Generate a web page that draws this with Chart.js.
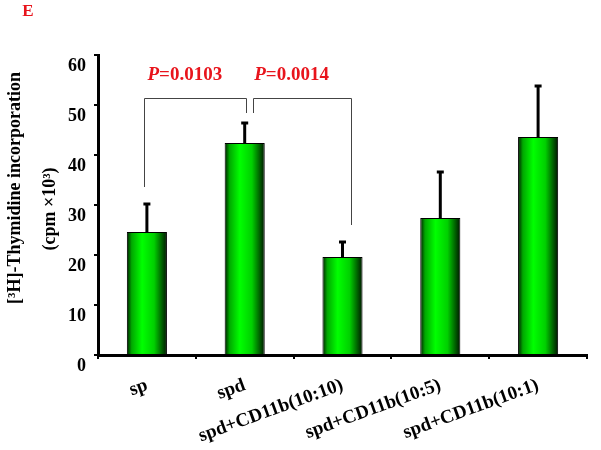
<!DOCTYPE html>
<html>
<head>
<meta charset="utf-8">
<script src="https://cdn.jsdelivr.net/npm/chart.js@4.4.0/dist/chart.umd.min.js"></script>
<style>
  html, body { margin: 0; padding: 0; background: #fff; }
</style>
</head>
<body>
<canvas id="chart" width="601" height="450"></canvas>
<script>
const categories = ['sp', 'spd', 'spd+CD11b(10:10)', 'spd+CD11b(10:5)', 'spd+CD11b(10:1)'];
const means = [24.6, 42.4, 19.6, 27.4, 43.6];
const errors = [5.6, 4.0, 3.0, 9.2, 10.2];
const yMin = 0;
const yMax = 60;
const yStep = 10;

// significance brackets (data units)
const bracketFrom = [0, 1];
const bracketTo = [1, 2];
const bracketTop = [51.4, 51.4];
const bracketLegFrom = [33.6, 48.4];
const bracketLegTo = [48.4, 26.0];
const pValues = ['0.0103', '0.0014'];
const pLabelY = 56;

const panelLetter = 'E';
const yTitle1 = '[\u00b3H]-Thymidine incorporation';
const yTitle2 = '(cpm \u00d710\u00b3)';

const serif = "'Liberation Serif', 'Times New Roman', serif";
const barFrac = 0.41;

function barGradient(context) {
  const chart = context.chart;
  const { ctx, chartArea, scales } = chart;
  if (!chartArea || !scales.x) return '#00e000';
  const x = scales.x.getPixelForValue(context.dataIndex);
  const w = (chartArea.right - chartArea.left) / categories.length * barFrac;
  const g = ctx.createLinearGradient(x - w / 2, 0, x + w / 2, 0);
  g.addColorStop(0, '#001a00');
  g.addColorStop(0.12, '#00a800');
  g.addColorStop(0.38, '#00ff00');
  g.addColorStop(0.68, '#00d000');
  g.addColorStop(0.9, '#005000');
  g.addColorStop(1, '#001500');
  return g;
}

// upper error bars
const errorBars = {
  id: 'errorBars',
  afterDatasetsDraw(chart) {
    const { ctx, scales } = chart;
    ctx.save();
    ctx.strokeStyle = '#000';
    means.forEach((m, i) => {
      const x = scales.x.getPixelForValue(i);
      const y0 = scales.y.getPixelForValue(m);
      const y1 = scales.y.getPixelForValue(m + errors[i]);
      ctx.lineWidth = 3;
      ctx.beginPath();
      ctx.moveTo(x, y0);
      ctx.lineTo(x, y1);
      ctx.stroke();
      ctx.beginPath();
      ctx.moveTo(x - 3.5, y1);
      ctx.lineTo(x + 3.5, y1);
      ctx.stroke();
    });
    ctx.restore();
  }
};

// brackets, p values, panel letter, y title
const annotations = {
  id: 'annotations',
  afterDraw(chart) {
    const { ctx, scales } = chart;
    ctx.save();
    ctx.strokeStyle = '#444';
    ctx.lineWidth = 1;
    bracketFrom.forEach((a, i) => {
      const b = bracketTo[i];
      const xa = scales.x.getPixelForValue(a) + (i === 0 ? -3 : 8);
      const xb = scales.x.getPixelForValue(b) + (i === 0 ? 1 : 8);
      const yt = Math.round(scales.y.getPixelForValue(bracketTop[i])) + 0.5;
      ctx.beginPath();
      ctx.moveTo(Math.round(xa) + 0.5, scales.y.getPixelForValue(bracketLegFrom[i]));
      ctx.lineTo(Math.round(xa) + 0.5, yt);
      ctx.lineTo(Math.round(xb) + 0.5, yt);
      ctx.lineTo(Math.round(xb) + 0.5, scales.y.getPixelForValue(bracketLegTo[i]));
      ctx.stroke();

      // P label
      const cx = (xa + xb) / 2 - 10;
      const py = scales.y.getPixelForValue(pLabelY);
      ctx.fillStyle = '#e8141c';
      ctx.textBaseline = 'middle';
      ctx.font = 'italic bold 19px ' + serif;
      const pw = ctx.measureText('P').width;
      ctx.font = 'bold 19px ' + serif;
      const rest = '=' + pValues[i];
      const rw = ctx.measureText(rest).width;
      const x0 = cx - (pw + rw) / 2;
      ctx.textAlign = 'left';
      ctx.font = 'italic bold 19px ' + serif;
      ctx.fillText('P', x0, py);
      ctx.font = 'bold 19px ' + serif;
      ctx.fillText(rest, x0 + pw, py);
    });

    // panel letter
    ctx.fillStyle = '#e8141c';
    ctx.font = 'bold 17px ' + serif;
    ctx.textAlign = 'center';
    ctx.textBaseline = 'middle';
    ctx.fillText(panelLetter, 28, 12);

    // y axis title, two lines rotated
    ctx.fillStyle = '#000';
    ctx.font = 'bold 18px ' + serif;
    ctx.save();
    ctx.translate(15, 188);
    ctx.rotate(-Math.PI / 2);
    ctx.fillText(yTitle1, 0, 0);
    ctx.restore();
    ctx.save();
    ctx.translate(50, 209);
    ctx.rotate(-Math.PI / 2);
    ctx.fillText(yTitle2, 0, 0);
    ctx.restore();
    ctx.restore();
  }
};

const ctx = document.getElementById('chart').getContext('2d');
new Chart(ctx, {
  type: 'bar',
  data: {
    labels: categories,
    datasets: [{
      data: means,
      backgroundColor: barGradient,
      borderColor: '#000',
      borderWidth: 1,
      borderSkipped: 'bottom',
      barPercentage: barFrac,
      categoryPercentage: 1.0
    }]
  },
  options: {
    responsive: false,
    animation: false,
    layout: { padding: { top: 55, right: 14, left: 0, bottom: 0 } },
    plugins: {
      legend: { display: false },
      tooltip: { enabled: false }
    },
    scales: {
      x: {
        grid: { display: true, drawOnChartArea: false, tickLength: 4, color: '#000', lineWidth: 2, offset: true },
        border: { color: '#000', width: 3 },
        ticks: {
          color: '#000',
          font: { family: serif, size: 19, weight: 'bold' },
          minRotation: 20,
          maxRotation: 20,
          padding: 15,
          autoSkip: false
        },
        afterFit(scale) { scale.height = 95; }
      },
      y: {
        min: yMin,
        max: yMax,
        grid: { display: true, drawOnChartArea: false, tickLength: 4, color: '#000', lineWidth: 2 },
        border: { color: '#000', width: 3 },
        ticks: {
          stepSize: yStep,
          color: '#000',
          padding: 8,
          font: { family: serif, size: 18, weight: 'bold', lineHeight: 1.25 },
          callback: (v) => ['', String(v)]
        },
        afterFit(scale) { scale.width = 98; }
      }
    }
  },
  plugins: [errorBars, annotations]
});
</script>
</body>
</html>
